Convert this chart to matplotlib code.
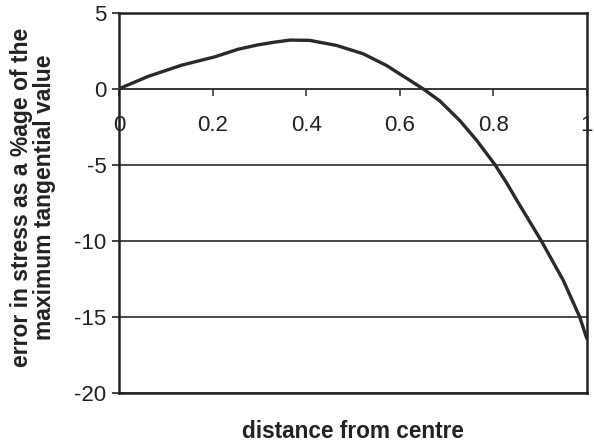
import matplotlib
matplotlib.use("Agg")
import matplotlib.pyplot as plt

# data
x_vals = [0.0, 0.063, 0.134, 0.205, 0.255, 0.298, 0.334, 0.366, 0.408, 0.465,
          0.522, 0.572, 0.622, 0.65, 0.686, 0.729, 0.765, 0.804, 0.829, 0.85,
          0.903, 0.95, 0.985, 1.0]
err_vals = [0.0, 0.82, 1.55, 2.1, 2.6, 2.89, 3.07, 3.2, 3.18, 2.85,
            2.3, 1.53, 0.55, 0.0, -0.8, -2.1, -3.4, -5.0, -6.2, -7.3,
            -10.0, -12.6, -15.0, -16.4]
x_ticks = [0, 0.2, 0.4, 0.6, 0.8, 1]
x_tick_labels = ["0", "0.2", "0.4", "0.6", "0.8", "1"]
y_ticks = [5, 0, -5, -10, -15, -20]
y_tick_labels = ["5", "0", "-5", "-10", "-15", "-20"]

plt.rcParams['font.family'] = ['Liberation Sans', 'DejaVu Sans']

fig = plt.figure(figsize=(5.94, 4.44), dpi=100)
ax = fig.add_axes([0.2003, 0.1149, 0.7874, 0.8565])

ax.plot(x_vals, err_vals, color='#2a2a2a', lw=2.4, zorder=3,
        solid_joinstyle='round', solid_capstyle='round')

ax.set_xlim(0, 1)
ax.set_ylim(-20, 5)

ax.set_yticks(y_ticks)
ax.set_yticklabels(y_tick_labels)
ax.set_xticks(x_ticks)
ax.set_xticklabels(x_tick_labels)

ax.yaxis.grid(True, color='#3a3a3a', lw=1.3)
ax.set_axisbelow(True)

ax.spines['bottom'].set_position(('data', 0))
ax.spines['bottom'].set_color('#3a3a3a')
ax.spines['bottom'].set_linewidth(1.3)
for s in ['top', 'left', 'right']:
    ax.spines[s].set_color('#222222')
    ax.spines[s].set_linewidth(1.8)

ax.axhline(-20, color='#222222', lw=1.8, clip_on=False, zorder=2)

ax.tick_params(axis='x', direction='out', length=5, width=1.2, color='#3a3a3a',
               labelsize=16, pad=14, colors='#222222')
ax.tick_params(axis='y', direction='out', length=5, width=1.2, labelsize=16,
               pad=4, colors='#222222')

fig.text(0.594, 0.029, "distance from centre", ha='center', va='center',
         fontsize=16.3, fontweight='bold', color='#222222', transform=fig.transFigure)
fig.text(0.056, 0.556, "error in stress as a %age of the\nmaximum tangential value",
         ha='center', va='center', rotation=90, fontsize=16.5, fontweight='bold',
         color='#222222', linespacing=1.0)

fig.savefig("out.png", dpi=100)
